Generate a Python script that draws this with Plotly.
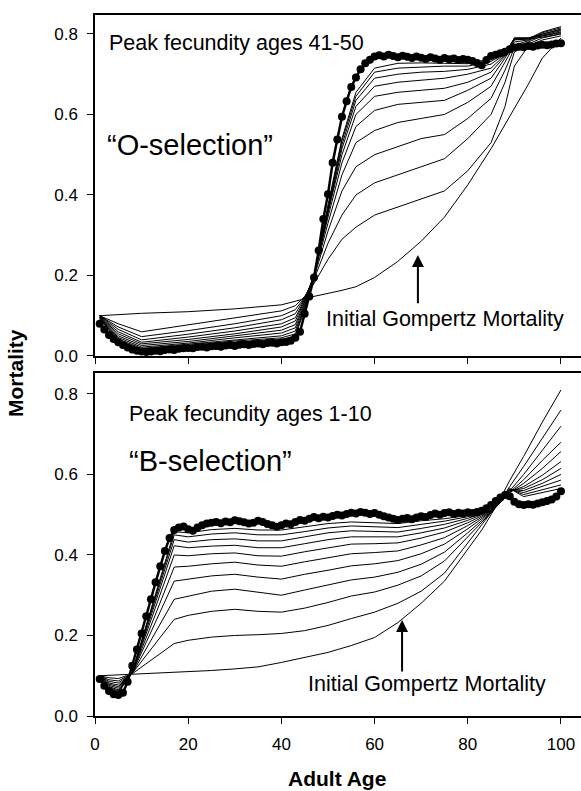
import plotly.graph_objects as go

# ---------------- data: top panel ("O-selection", peak fecundity 41-50) ----------------
top_ages = [1, 5, 10, 20, 30, 40, 43, 45, 47, 50, 53, 56, 60, 65, 70, 75, 80, 85, 88, 90, 93, 96, 100]
top_gompertz = [0.100, 0.103, 0.106, 0.110, 0.117, 0.127, 0.135, 0.142, 0.148, 0.155, 0.163, 0.172, 0.195, 0.235, 0.285, 0.345, 0.425, 0.515, 0.575, 0.615, 0.675, 0.740, 0.790]
top_gen_1 = [0.100, 0.080, 0.060, 0.077, 0.094, 0.112, 0.125, 0.148, 0.180, 0.240, 0.290, 0.320, 0.350, 0.370, 0.390, 0.410, 0.460, 0.530, 0.620, 0.720, 0.770, 0.785, 0.795]
top_gen_2 = [0.100, 0.072, 0.048, 0.063, 0.080, 0.100, 0.115, 0.146, 0.190, 0.280, 0.350, 0.400, 0.430, 0.450, 0.470, 0.490, 0.540, 0.600, 0.680, 0.755, 0.775, 0.790, 0.800]
top_gen_3 = [0.100, 0.066, 0.040, 0.054, 0.070, 0.090, 0.105, 0.144, 0.195, 0.310, 0.410, 0.470, 0.500, 0.520, 0.540, 0.550, 0.590, 0.640, 0.710, 0.765, 0.780, 0.795, 0.805]
top_gen_4 = [0.099, 0.060, 0.034, 0.047, 0.062, 0.080, 0.095, 0.141, 0.200, 0.330, 0.450, 0.530, 0.560, 0.580, 0.590, 0.600, 0.630, 0.670, 0.730, 0.772, 0.783, 0.800, 0.810]
top_gen_5 = [0.098, 0.055, 0.030, 0.041, 0.055, 0.072, 0.087, 0.138, 0.200, 0.345, 0.480, 0.570, 0.610, 0.625, 0.630, 0.635, 0.660, 0.690, 0.740, 0.780, 0.785, 0.803, 0.815]
top_gen_6 = [0.097, 0.050, 0.026, 0.036, 0.050, 0.064, 0.078, 0.134, 0.200, 0.355, 0.500, 0.600, 0.645, 0.655, 0.660, 0.665, 0.680, 0.705, 0.745, 0.785, 0.788, 0.805, 0.818]
top_gen_7 = [0.096, 0.046, 0.022, 0.032, 0.045, 0.057, 0.070, 0.130, 0.200, 0.360, 0.515, 0.620, 0.670, 0.680, 0.685, 0.690, 0.700, 0.715, 0.748, 0.790, 0.790, 0.800, 0.812]
top_gen_8 = [0.095, 0.042, 0.019, 0.029, 0.040, 0.050, 0.062, 0.125, 0.200, 0.365, 0.525, 0.635, 0.690, 0.700, 0.705, 0.707, 0.712, 0.725, 0.750, 0.790, 0.790, 0.797, 0.808]
top_gen_9 = [0.094, 0.038, 0.017, 0.026, 0.037, 0.045, 0.055, 0.120, 0.200, 0.370, 0.535, 0.645, 0.705, 0.715, 0.718, 0.720, 0.720, 0.732, 0.752, 0.788, 0.789, 0.795, 0.803]
top_gen_10 = [0.092, 0.035, 0.015, 0.024, 0.034, 0.041, 0.050, 0.115, 0.200, 0.375, 0.540, 0.655, 0.715, 0.727, 0.728, 0.727, 0.726, 0.738, 0.753, 0.786, 0.787, 0.792, 0.800]

final_ages = list(range(1, 101))
top_final = [
    0.080, 0.066, 0.052, 0.042, 0.034, 0.027, 0.021, 0.016, 0.013, 0.011,
    0.010, 0.011, 0.013, 0.012, 0.015, 0.016, 0.015, 0.018, 0.019, 0.020,
    0.019, 0.022, 0.023, 0.021, 0.024, 0.025, 0.023, 0.026, 0.027, 0.025,
    0.028, 0.029, 0.027, 0.030, 0.031, 0.029, 0.032, 0.033, 0.031, 0.034,
    0.035, 0.038, 0.045, 0.060, 0.105, 0.148, 0.195, 0.262, 0.340, 0.402,
    0.480, 0.538, 0.594, 0.633, 0.668, 0.692, 0.712, 0.727, 0.736, 0.744,
    0.747, 0.744, 0.748, 0.745, 0.742, 0.746, 0.743, 0.740, 0.744, 0.741,
    0.738, 0.742, 0.739, 0.736, 0.740, 0.737, 0.739, 0.735, 0.738, 0.736,
    0.733, 0.728, 0.722, 0.735, 0.745, 0.748, 0.752, 0.756, 0.762, 0.766,
    0.768, 0.767, 0.770, 0.768, 0.771, 0.773, 0.772, 0.774, 0.776, 0.777]

# ---------------- data: bottom panel ("B-selection", peak fecundity 1-10) ----------------
bot_ages = [1, 3, 5, 8, 17, 20, 25, 30, 35, 40, 45, 50, 55, 60, 65, 70, 75, 80, 83, 85, 87, 89, 92, 96, 100]
bot_gompertz = [0.100, 0.101, 0.102, 0.104, 0.108, 0.110, 0.113, 0.117, 0.122, 0.133, 0.145, 0.158, 0.175, 0.195, 0.232, 0.280, 0.335, 0.415, 0.462, 0.500, 0.540, 0.585, 0.645, 0.730, 0.810]
bot_gen_1 = [0.100, 0.095, 0.093, 0.105, 0.180, 0.188, 0.196, 0.200, 0.202, 0.205, 0.212, 0.225, 0.242, 0.258, 0.280, 0.310, 0.355, 0.430, 0.475, 0.503, 0.535, 0.570, 0.620, 0.690, 0.760]
bot_gen_2 = [0.100, 0.090, 0.087, 0.106, 0.240, 0.250, 0.260, 0.265, 0.260, 0.258, 0.268, 0.282, 0.298, 0.308, 0.325, 0.348, 0.385, 0.445, 0.482, 0.505, 0.532, 0.560, 0.600, 0.660, 0.720]
bot_gen_3 = [0.100, 0.086, 0.082, 0.106, 0.290, 0.298, 0.310, 0.315, 0.308, 0.300, 0.313, 0.325, 0.338, 0.345, 0.357, 0.377, 0.407, 0.455, 0.487, 0.506, 0.530, 0.556, 0.587, 0.635, 0.680]
bot_gen_4 = [0.100, 0.082, 0.077, 0.107, 0.335, 0.340, 0.348, 0.352, 0.345, 0.340, 0.352, 0.362, 0.373, 0.378, 0.386, 0.403, 0.427, 0.465, 0.491, 0.507, 0.530, 0.555, 0.578, 0.615, 0.657]
bot_gen_5 = [0.100, 0.079, 0.073, 0.107, 0.370, 0.372, 0.378, 0.382, 0.375, 0.372, 0.383, 0.393, 0.403, 0.406, 0.410, 0.425, 0.443, 0.473, 0.494, 0.508, 0.530, 0.557, 0.570, 0.598, 0.632]
bot_gen_6 = [0.099, 0.076, 0.069, 0.108, 0.400, 0.398, 0.403, 0.405, 0.398, 0.397, 0.408, 0.418, 0.427, 0.428, 0.430, 0.442, 0.457, 0.480, 0.497, 0.509, 0.532, 0.560, 0.565, 0.587, 0.615]
bot_gen_7 = [0.098, 0.073, 0.065, 0.108, 0.423, 0.418, 0.422, 0.424, 0.418, 0.418, 0.428, 0.438, 0.445, 0.445, 0.445, 0.455, 0.467, 0.486, 0.500, 0.510, 0.534, 0.562, 0.560, 0.578, 0.600]
bot_gen_8 = [0.097, 0.071, 0.062, 0.109, 0.438, 0.432, 0.438, 0.440, 0.435, 0.435, 0.445, 0.455, 0.460, 0.458, 0.457, 0.466, 0.476, 0.491, 0.502, 0.510, 0.536, 0.563, 0.555, 0.570, 0.586]
bot_gen_9 = [0.096, 0.069, 0.059, 0.109, 0.450, 0.445, 0.452, 0.455, 0.450, 0.450, 0.458, 0.467, 0.472, 0.470, 0.468, 0.476, 0.484, 0.495, 0.504, 0.511, 0.538, 0.564, 0.550, 0.562, 0.574]
bot_gen_10 = [0.095, 0.067, 0.057, 0.110, 0.458, 0.455, 0.463, 0.466, 0.462, 0.462, 0.470, 0.478, 0.482, 0.480, 0.478, 0.485, 0.490, 0.498, 0.506, 0.512, 0.540, 0.565, 0.545, 0.555, 0.565]
bot_final = [
    0.092, 0.075, 0.062, 0.054, 0.052, 0.058, 0.085, 0.125, 0.165, 0.205,
    0.248, 0.290, 0.332, 0.372, 0.410, 0.442, 0.462, 0.468, 0.471, 0.464,
    0.460, 0.468, 0.474, 0.478, 0.480, 0.482, 0.479, 0.483, 0.481, 0.486,
    0.484, 0.481, 0.478, 0.480, 0.485, 0.482, 0.477, 0.474, 0.470, 0.474,
    0.478, 0.476, 0.482, 0.487, 0.485, 0.490, 0.494, 0.491, 0.495, 0.493,
    0.497, 0.500, 0.498, 0.502, 0.505, 0.503, 0.507, 0.505, 0.502, 0.504,
    0.500, 0.496, 0.493, 0.490, 0.487, 0.490, 0.492, 0.489, 0.493, 0.496,
    0.494, 0.499, 0.503, 0.500, 0.504, 0.506, 0.502, 0.505, 0.503, 0.506,
    0.504, 0.507, 0.510, 0.516, 0.524, 0.534, 0.543, 0.549, 0.546, 0.532,
    0.526, 0.524, 0.526, 0.525, 0.528, 0.531, 0.534, 0.538, 0.545, 0.558]

x_ticks = [0, 20, 40, 60, 80, 100]
y_ticks = [0.0, 0.2, 0.4, 0.6, 0.8]

FONT = "Liberation Sans, Arial, sans-serif"

fig = go.Figure()

top_lines = [top_gompertz, top_gen_1, top_gen_2, top_gen_3, top_gen_4, top_gen_5,
             top_gen_6, top_gen_7, top_gen_8, top_gen_9, top_gen_10]
bot_lines = [bot_gompertz, bot_gen_1, bot_gen_2, bot_gen_3, bot_gen_4, bot_gen_5,
             bot_gen_6, bot_gen_7, bot_gen_8, bot_gen_9, bot_gen_10]

for ys in top_lines:
    fig.add_trace(go.Scatter(x=top_ages, y=ys, mode="lines", xaxis="x", yaxis="y",
                             line=dict(color="black", width=1), showlegend=False, hoverinfo="skip"))
fig.add_trace(go.Scatter(x=final_ages, y=top_final, mode="lines+markers", xaxis="x", yaxis="y",
                         line=dict(color="black", width=2.5),
                         marker=dict(color="black", size=8, line=dict(width=0)),
                         showlegend=False, cliponaxis=False))

for ys in bot_lines:
    fig.add_trace(go.Scatter(x=bot_ages, y=ys, mode="lines", xaxis="x2", yaxis="y2",
                             line=dict(color="black", width=1), showlegend=False, hoverinfo="skip"))
fig.add_trace(go.Scatter(x=final_ages, y=bot_final, mode="lines+markers", xaxis="x2", yaxis="y2",
                         line=dict(color="black", width=2.5),
                         marker=dict(color="black", size=8, line=dict(width=0)),
                         showlegend=False, cliponaxis=False))

axis_common = dict(showgrid=False, zeroline=False, linecolor="black", linewidth=1.5,
                   ticks="outside", ticklen=6, tickwidth=1.2, tickcolor="black",
                   tickfont=dict(family=FONT, size=17, color="black"))

fig.update_layout(
    width=581, height=791,
    margin=dict(l=95, r=0, t=15, b=75),
    paper_bgcolor="white", plot_bgcolor="white",
    xaxis=dict(domain=[0, 1], anchor="y", range=[0, 104.3], tickvals=x_ticks,
               showticklabels=False, mirror=True, **axis_common),
    yaxis=dict(domain=[0.5136, 1], anchor="x", range=[0, 0.847], tickvals=y_ticks,
               tickformat=".1f", ticklabelstandoff=6, **axis_common),
    xaxis2=dict(domain=[0, 1], anchor="y2", range=[0, 104.3], tickvals=x_ticks,
                mirror=True, ticklabelstandoff=6, **axis_common),
    yaxis2=dict(domain=[0, 0.4893], anchor="x2", range=[0, 0.852], tickvals=y_ticks,
                tickformat=".1f", ticklabelstandoff=6, **axis_common),
)

ann = []
txt = dict(family=FONT, color="black")
# top panel texts
ann.append(dict(xref="x", yref="y", x=2.6, y=0.778, text="Peak fecundity ages 41-50", showarrow=False,
                xanchor="left", yanchor="middle", font=dict(size=21.5, **txt)))
ann.append(dict(xref="x", yref="y", x=2.1, y=0.524, text="\u201cO-selection\u201d", showarrow=False,
                xanchor="left", yanchor="middle", font=dict(size=29, **txt)))
ann.append(dict(xref="x", yref="y", x=75.1, y=0.092, text="Initial Gompertz Mortality", showarrow=False,
                xanchor="center", yanchor="middle", font=dict(size=21.5, **txt)))
ann.append(dict(xref="x", yref="y", axref="x", ayref="y", x=69.3, y=0.251, ax=69.3, ay=0.127,
                text="", showarrow=True, arrowhead=2, arrowsize=1.2, arrowwidth=2, arrowcolor="black"))
# bottom panel texts
ann.append(dict(xref="x2", yref="y2", x=6.9, y=0.750, text="Peak fecundity ages 1-10", showarrow=False,
                xanchor="left", yanchor="middle", font=dict(size=21.5, **txt)))
ann.append(dict(xref="x2", yref="y2", x=6.9, y=0.633, text="\u201cB-selection\u201d", showarrow=False,
                xanchor="left", yanchor="middle", font=dict(size=29, **txt)))
ann.append(dict(xref="x2", yref="y2", x=71.3, y=0.0795, text="Initial Gompertz Mortality", showarrow=False,
                xanchor="center", yanchor="middle", font=dict(size=21.5, **txt)))
ann.append(dict(xref="x2", yref="y2", axref="x2", ayref="y2", x=65.9, y=0.2385, ax=65.9, ay=0.107,
                text="", showarrow=True, arrowhead=2, arrowsize=1.2, arrowwidth=2, arrowcolor="black"))
# axis titles
ann.append(dict(xref="paper", yref="paper", x=0.498, y=-0.0895, text="<b>Adult Age</b>", showarrow=False,
                xanchor="center", yanchor="middle", font=dict(size=21, **txt)))
ann.append(dict(xref="paper", yref="paper", x=-0.1646, y=0.4893, text="<b>Mortality</b>", showarrow=False,
                textangle=-90, xanchor="center", yanchor="middle", font=dict(size=21, **txt)))
fig.update_layout(annotations=ann)

fig.write_html("out.html", config={"displayModeBar": False},
               post_script="document.body.style.margin='0px';document.body.style.padding='0px';"
                           "document.documentElement.style.overflow='hidden';")
